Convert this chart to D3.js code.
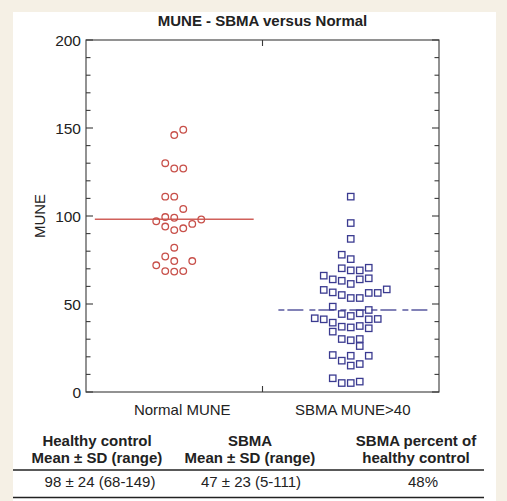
<!DOCTYPE html>
<html><head><meta charset="utf-8">
<script src="https://cdn.jsdelivr.net/npm/d3@7"></script>
<style>
html,body{margin:0;padding:0;background:#f5f0e5;}
svg{display:block;font-family:"Liberation Sans",Arial,Helvetica,sans-serif;}
</style></head><body>
<svg id="c" width="507" height="501"></svg>
<script>
const title = "MUNE - SBMA versus Normal";
const categories = ["Normal MUNE", "SBMA MUNE>40"];
const yTicks = [0, 50, 100, 150, 200];
const yLabel = "MUNE";

// Normal MUNE values and their beeswarm column slot
const normalValues = [149, 146, 130, 127, 127, 111, 111, 104, 99.4, 99, 97, 98, 95.5, 94, 93, 92, 82, 77, 74.4, 74.4, 72, 68.7, 68.4, 68.7];
const normalSlots  = [1,   0,   -1,  0,   1,   -1,  0,   1,   -1,   0,  -2, 3,  2,    -1, 1,  0,  0,  -1, 0,    2,    -2, -1,   0,    1];

// SBMA MUNE values and column slots
const sbmaValues = [111, 96, 87, 78, 75.5,
  70.3, 69.1, 69.1, 70.6,
  66.1, 64, 63.2, 61.4, 64, 64.6,
  58, 56.6, 55.1, 53.4, 53.4, 56.3, 56.3, 58.3,
  48.5, 44.3, 43.2, 44.7, 46.6,
  41.9, 41.3, 39.4, 41.3, 41.5,
  37.1, 36.7, 37.5, 36.2, 34.3,
  30.1, 29.4, 30.1, 26.1,
  21, 17.8, 20.6, 20.6, 15, 15.9,
  7.8, 5.1, 5.1, 5.9];
const sbmaSlots = [0, 0, 0, -1, 0,
  -1, 0, 1, 2,
  -3, -2, -1, 0, 1, 2,
  -3, -2, -1, 0, 1, 2, 3, 4,
  -2, -1, 0, 1, 2,
  -4, -3, -2, 2, 3,
  -1, 0, 1, 2, -2,
  -1, 0, 1, 1,
  -2, -1, 0, 2, 0, 1,
  -2, -1, 0, 1];

const means = [98.2, 46.6];

// summary table
const tableHeaders = [["Healthy control", "Mean \u00b1 SD (range)"], ["SBMA", "Mean \u00b1 SD (range)"], ["SBMA percent of", "healthy control"]];
const tableRow = ["98 \u00b1 24 (68-149)", "47 \u00b1 23 (5-111)", "48%"];

const svg = d3.select("#c");
svg.append("rect").attr("x", 13).attr("y", 12).attr("width", 483).attr("height", 489).attr("fill", "#ffffff");

const x = d3.scaleLinear().domain([0.5, 2.5]).range([86, 439]);
const y = d3.scaleLinear().domain([0, 200]).range([392, 40]);
const slotW = 0.051;
const axisCol = "#3a3a3a";
const red = "#c8504a", blue = "#3a3a90";

// title
svg.append("text").attr("x", 262.5).attr("y", 26).attr("text-anchor", "middle")
  .attr("font-weight", "bold").attr("font-size", 15).attr("fill", "#222").text(title);

// frame
const g = svg.append("g");
g.append("rect").attr("x", x(0.5)).attr("y", y(200)).attr("width", x(2.5) - x(0.5)).attr("height", y(0) - y(200))
  .attr("fill", "none").attr("stroke", axisCol).attr("stroke-width", 1.1);

// y ticks (inward, both sides)
const minor = d3.range(0, 201, 10);
minor.forEach(v => {
  const major = v % 50 === 0;
  const len = major ? 7 : 4.5;
  g.append("line").attr("x1", x(0.5)).attr("x2", x(0.5) + len).attr("y1", y(v)).attr("y2", y(v)).attr("stroke", axisCol).attr("stroke-width", 1.1);
  g.append("line").attr("x1", x(2.5)).attr("x2", x(2.5) - len).attr("y1", y(v)).attr("y2", y(v)).attr("stroke", axisCol).attr("stroke-width", 1.1);
});
g.selectAll(".yl").data(yTicks).enter().append("text")
  .attr("x", x(0.5) - 5).attr("y", d => y(d)).attr("dy", "0.36em").attr("text-anchor", "end")
  .attr("font-size", 15.5).attr("fill", "#222").text(d => d);

// x tick at middle (top and bottom)
g.append("line").attr("x1", x(1.5)).attr("x2", x(1.5)).attr("y1", y(200)).attr("y2", y(200) + 6).attr("stroke", axisCol).attr("stroke-width", 1.1);
g.append("line").attr("x1", x(1.5)).attr("x2", x(1.5)).attr("y1", y(0)).attr("y2", y(0) - 6).attr("stroke", axisCol).attr("stroke-width", 1.1);

// category labels
g.selectAll(".xl").data(categories).enter().append("text")
  .attr("x", (d, i) => x(i + 1) + (i === 0 ? 8 : 2)).attr("y", 415).attr("text-anchor", "middle")
  .attr("font-size", 15).attr("fill", "#222").text(d => d);

// y label
svg.append("text").attr("transform", `translate(45,${y(100)}) rotate(-90)`).attr("text-anchor", "middle")
  .attr("font-size", 15).attr("fill", "#222").text(yLabel);

// mean lines
g.append("line").attr("x1", x(1 - 0.45)).attr("x2", x(1 + 0.45)).attr("y1", y(means[0])).attr("y2", y(means[0]))
  .attr("stroke", "#d0605a").attr("stroke-width", 1.5);
g.append("line").attr("x1", x(2 - 0.41)).attr("x2", x(2 + 0.45)).attr("y1", y(means[1])).attr("y2", y(means[1]))
  .attr("stroke", "#5a5aa0").attr("stroke-width", 1.3).attr("stroke-dasharray", "6,3,16,6");

// normal circles
g.selectAll(".pn").data(normalValues).enter().append("circle")
  .attr("cx", (d, i) => x(1 + normalSlots[i] * slotW)).attr("cy", d => y(d)).attr("r", 3.3)
  .attr("fill", "none").attr("stroke", red).attr("stroke-width", 1.3);

// sbma squares
const s = 6.4;
g.selectAll(".ps").data(sbmaValues).enter().append("rect")
  .attr("x", (d, i) => x(2 + sbmaSlots[i] * slotW) - s / 2).attr("y", d => y(d) - s / 2)
  .attr("width", s).attr("height", s)
  .attr("fill", "none").attr("stroke", blue).attr("stroke-width", 1.3);

// table
const colX = [97, 250, 416];
const tg = svg.append("g").attr("fill", "#222");
tableHeaders.forEach((lines, i) => {
  lines.forEach((t, j) => {
    tg.append("text").attr("x", colX[i]).attr("y", 446 + j * 17).attr("text-anchor", "middle")
      .attr("font-weight", "bold").attr("font-size", 15).text(t);
  });
});
tg.append("line").attr("x1", 13).attr("x2", 484).attr("y1", 470).attr("y2", 470).attr("stroke", "#222").attr("stroke-width", 1.6);
const rowX = [100, 251, 423];
tableRow.forEach((t, i) => {
  tg.append("text").attr("x", rowX[i]).attr("y", 487).attr("text-anchor", "middle").attr("font-size", 15).text(t);
});
tg.append("line").attr("x1", 13).attr("x2", 484).attr("y1", 497.5).attr("y2", 497.5).attr("stroke", "#222").attr("stroke-width", 1.6);
</script>
</body></html>
